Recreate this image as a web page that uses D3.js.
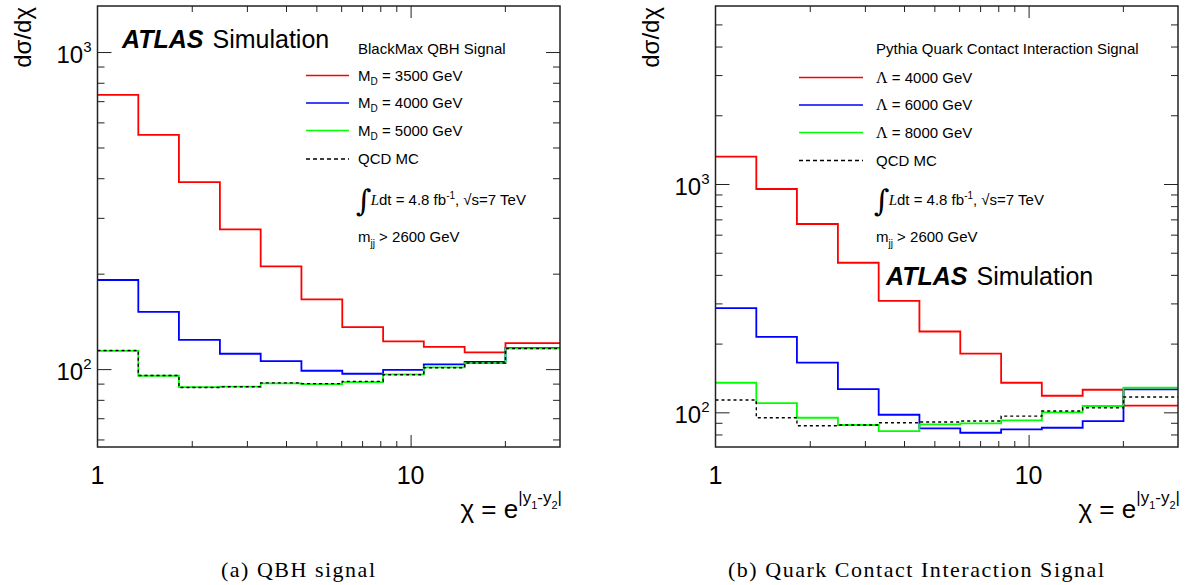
<!DOCTYPE html>
<html>
<head>
<meta charset="utf-8">
<script src="https://cdn.jsdelivr.net/npm/d3@7/dist/d3.min.js"></script>
<style>
  html, body { margin: 0; padding: 0; background: #fff; }
  svg { display: block; }
  text { font-family: "Liberation Sans", Arial, Helvetica, sans-serif; fill: #000; }
  .caption { font-family: "Liberation Serif", "Times New Roman", serif; }
</style>
</head>
<body>
<script>
// chi bin edges shared by both histograms
const chiEdges = [1, 1.35, 1.82, 2.46, 3.32, 4.48, 6.05, 8.17, 11.02, 14.88, 20.09, 30];

// x-axis ticks and labels
const xTickLabels = [1, 10];
const xMajorTicks = [10];
const xMinorTicks = [2, 3, 4, 5, 6, 7, 8, 9, 20];

// (a) BlackMax QBH signal, dsigma/dchi per bin
const qbhLabels = ["3500", "4000", "5000"];
const qbh3500 = [733, 548, 389, 276, 211, 166, 135.7, 122.3, 117.6, 112.9, 120.8];
const qbh4000 = [191, 151.6, 123.7, 111.8, 106, 98.8, 96.7, 99.5, 103.5, 105.4, 116.7];
const qbh5000 = [114.2, 95.3, 87.8, 88, 90.1, 89.7, 91, 96.2, 101.3, 104.5, 116.2];
const qcdQbh  = [114.5, 95.5, 87.5, 88, 90.5, 90, 91.5, 96, 101, 104.5, 116];

// (b) Pythia quark contact interaction signal
const ciLabels = ["4000", "6000", "8000"];
const ci4000 = [1317, 951, 668, 452, 308, 226, 180.6, 134.8, 118.2, 125.6, 106.9];
const ci6000 = [286, 214, 165, 126.5, 97.6, 85.1, 81.4, 84.2, 85.6, 91.6, 126.1];
const ci8000 = [134.8, 109.8, 94.7, 88, 82.8, 88.6, 89.5, 92.2, 100, 106.6, 128.2];
const qcdCi  = [113.2, 94.7, 87.4, 88, 90, 90.7, 91.6, 96.3, 101.3, 104.7, 116.7];

// y-axis ticks
const yMajorTicks = [100, 1000];
const yMinorA = [60, 70, 80, 90, 200, 300, 400, 500, 600, 700, 800, 900];
const yMinorB = [80, 90, 200, 300, 400, 500, 600, 700, 800, 900, 2000, 3000, 4000, 5000];

const seriesColors = ["#ff0000", "#0000ff", "#00ff00"];

const W = 1198, H = 585;
const svg = d3.select("body").append("svg")
  .attr("width", W).attr("height", H)
  .attr("viewBox", `0 0 ${W} ${H}`);

function drawPanel(cfg) {
  const g = svg.append("g");
  const x = d3.scaleLog().domain([chiEdges[0], chiEdges[chiEdges.length - 1]]).range([cfg.x0, cfg.x1]);
  const y = d3.scaleLog().domain(cfg.yDomain).range([cfg.y1, cfg.y0]);

  const clipId = "clip-" + cfg.id;
  svg.append("clipPath").attr("id", clipId)
    .append("rect").attr("x", cfg.x0).attr("y", cfg.y0)
    .attr("width", cfg.x1 - cfg.x0).attr("height", cfg.y1 - cfg.y0);

  // step histograms
  const line = d3.line().x(d => d[0]).y(d => d[1]);
  function stepPoints(vals) {
    const pts = [];
    vals.forEach((v, i) => {
      pts.push([x(chiEdges[i]), y(v)]);
      pts.push([x(chiEdges[i + 1]), y(v)]);
    });
    return pts;
  }
  const hg = g.append("g").attr("clip-path", `url(#${clipId})`);
  cfg.series.forEach((vals, i) => {
    hg.append("path").attr("d", line(stepPoints(vals)))
      .attr("fill", "none").attr("stroke", seriesColors[i]).attr("stroke-width", 1.8);
  });
  hg.append("path").attr("d", line(stepPoints(cfg.qcd)))
    .attr("fill", "none").attr("stroke", "#000").attr("stroke-width", 1.4)
    .attr("stroke-dasharray", "3,3");

  // axes: ticks drawn inward on all four sides
  const H_ = cfg.y1 - cfg.y0, W_ = cfg.x1 - cfg.x0;
  function styleAxis(sel) {
    sel.select(".domain").remove();
    sel.selectAll("line").attr("stroke", "#222").attr("stroke-width", 1);
    sel.selectAll("text").remove();
  }
  g.append("g").attr("transform", `translate(0,${cfg.y1})`)
    .call(d3.axisBottom(x).tickValues(xMajorTicks).tickSizeInner(-12).tickSizeOuter(0)).call(styleAxis);
  g.append("g").attr("transform", `translate(0,${cfg.y1})`)
    .call(d3.axisBottom(x).tickValues(xMinorTicks).tickSizeInner(-6).tickSizeOuter(0)).call(styleAxis);
  g.append("g").attr("transform", `translate(0,${cfg.y0})`)
    .call(d3.axisTop(x).tickValues(xMajorTicks).tickSizeInner(-12).tickSizeOuter(0)).call(styleAxis);
  g.append("g").attr("transform", `translate(0,${cfg.y0})`)
    .call(d3.axisTop(x).tickValues(xMinorTicks).tickSizeInner(-6).tickSizeOuter(0)).call(styleAxis);

  g.append("g").attr("transform", `translate(${cfg.x0},0)`)
    .call(d3.axisLeft(y).tickValues(yMajorTicks).tickSizeInner(-14).tickSizeOuter(0)).call(styleAxis);
  g.append("g").attr("transform", `translate(${cfg.x0},0)`)
    .call(d3.axisLeft(y).tickValues(cfg.yMinor).tickSizeInner(-7).tickSizeOuter(0)).call(styleAxis);
  g.append("g").attr("transform", `translate(${cfg.x1},0)`)
    .call(d3.axisRight(y).tickValues(yMajorTicks).tickSizeInner(-14).tickSizeOuter(0)).call(styleAxis);
  g.append("g").attr("transform", `translate(${cfg.x1},0)`)
    .call(d3.axisRight(y).tickValues(cfg.yMinor).tickSizeInner(-7).tickSizeOuter(0)).call(styleAxis);

  // frame
  g.append("rect").attr("x", cfg.x0).attr("y", cfg.y0)
    .attr("width", W_).attr("height", H_)
    .attr("fill", "none").attr("stroke", "#222").attr("stroke-width", 1.5);

  // x tick labels
  g.selectAll(".xlab").data(xTickLabels).enter().append("text")
    .attr("x", d => x(d)).attr("y", cfg.y1 + 37)
    .attr("text-anchor", "middle").attr("font-size", 25)
    .text(d => d);

  // y tick labels 10^n
  yMajorTicks.forEach(v => {
    const t = g.append("text").attr("x", cfg.x0 - 6).attr("y", y(v) + 11)
      .attr("text-anchor", "end").attr("font-size", 24);
    t.append("tspan").text("10");
    t.append("tspan").attr("font-size", 15).attr("dy", -11).text(String(Math.round(Math.log10(v))));
  });

  // y-axis title
  g.append("text")
    .attr("transform", `translate(${cfg.yTitleX},7) rotate(-90)`)
    .attr("text-anchor", "end").attr("font-size", 24)
    .text("dσ/dχ");

  // x-axis title
  const xt = g.append("text").attr("x", cfg.x1 + 2).attr("y", 518)
    .attr("text-anchor", "end").attr("font-size", 26);
  xt.append("tspan").text("χ = e");
  xt.append("tspan").attr("font-size", 17).attr("dy", -15).text("|y");
  xt.append("tspan").attr("font-size", 11).attr("dy", 6).text("1");
  xt.append("tspan").attr("font-size", 17).attr("dy", -6).text("-y");
  xt.append("tspan").attr("font-size", 11).attr("dy", 6).text("2");
  xt.append("tspan").attr("font-size", 17).attr("dy", -6).text("|");

  // legend
  const L = cfg.legend;
  g.append("text").attr("x", L.tx).attr("y", L.titleY).attr("font-size", 15).text(L.title);
  const keys = [0, 1, 2, 3];
  keys.forEach(k => {
    const by = L.rowY[k];
    const ln = g.append("line").attr("x1", L.lx0).attr("x2", L.lx1)
      .attr("y1", by - 5).attr("y2", by - 5);
    if (k < 3) {
      ln.attr("stroke", seriesColors[k]).attr("stroke-width", 1.6);
    } else {
      ln.attr("stroke", "#000").attr("stroke-width", 1.4).attr("stroke-dasharray", "4,3");
    }
    const t = g.append("text").attr("x", L.tx).attr("y", by).attr("font-size", 15);
    if (k === 3) {
      t.text("QCD MC");
    } else if (cfg.id === "a") {
      t.append("tspan").text("M");
      t.append("tspan").attr("font-size", 10).attr("dy", 4).text("D");
      t.append("tspan").attr("dy", -4).text(` = ${L.labels[k]} GeV`);
    } else {
      t.append("tspan").attr("font-family", "Liberation Serif, serif").attr("font-size", 16).text("Λ");
      t.append("tspan").text(` = ${L.labels[k]} GeV`);
    }
  });

  // luminosity line
  const it = g.append("text").attr("x", L.tx - 2).attr("y", L.intY).attr("font-size", 15);
  it.append("tspan").attr("font-family", "DejaVu Serif, serif").attr("font-size", 30).attr("dy", 6).text("∫");
  it.append("tspan").attr("font-family", "Liberation Serif, serif").attr("font-style", "italic")
    .attr("dy", -6).attr("dx", -1).text("L");
  it.append("tspan").text("dt = 4.8 fb");
  it.append("tspan").attr("font-size", 10).attr("dy", -6).text("-1");
  it.append("tspan").attr("dy", 6).text(", √s=7 TeV");

  // mass cut
  const mt = g.append("text").attr("x", L.tx).attr("y", L.mjjY).attr("font-size", 15);
  mt.append("tspan").text("m");
  mt.append("tspan").attr("font-size", 10).attr("dy", 5).text("jj");
  mt.append("tspan").attr("dy", -5).text(" > 2600 GeV");

  // experiment label
  const at = g.append("text").attr("x", cfg.atlas[0]).attr("y", cfg.atlas[1]).attr("font-size", 25);
  at.append("tspan").attr("font-weight", "bold").attr("font-style", "italic").text("ATLAS");
  at.append("tspan").attr("dx", 9).text("Simulation");

  // caption
  svg.append("text").attr("class", "caption")
    .attr("x", cfg.caption.cx).attr("y", 577)
    .attr("text-anchor", "middle").attr("font-size", 22)
    .attr("textLength", cfg.caption.w).attr("lengthAdjust", "spacing")
    .text(cfg.caption.text);
}

drawPanel({
  id: "a",
  x0: 97.5, x1: 560, y0: 6, y1: 447,
  yDomain: [56.8, 1397],
  yMinor: yMinorA,
  series: [qbh3500, qbh4000, qbh5000],
  qcd: qcdQbh,
  yTitleX: 31,
  legend: {
    title: "BlackMax QBH Signal", tx: 358, titleY: 54,
    lx0: 306, lx1: 349, rowY: [80.5, 108, 135.5, 164],
    labels: qbhLabels, intY: 205, mjjY: 242
  },
  atlas: [122, 48],
  caption: { cx: 298, w: 154, text: "(a)  QBH signal" }
});

drawPanel({
  id: "b",
  x0: 715.5, x1: 1178, y0: 6, y1: 447,
  yDomain: [70.5, 6020],
  yMinor: yMinorB,
  series: [ci4000, ci6000, ci8000],
  qcd: qcdCi,
  yTitleX: 659,
  legend: {
    title: "Pythia Quark Contact Interaction Signal", tx: 876, titleY: 54,
    lx0: 799, lx1: 863, rowY: [82.5, 110, 137.5, 165.5],
    labels: ciLabels, intY: 205, mjjY: 242
  },
  atlas: [886, 285],
  caption: { cx: 916, w: 376, text: "(b)  Quark Contact Interaction Signal" }
});
</script>
</body>
</html>
